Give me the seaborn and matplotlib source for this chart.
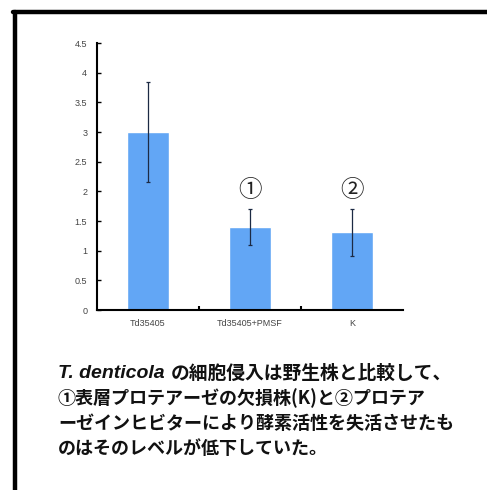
import numpy as np
import pandas as pd
import seaborn as sns
import matplotlib.pyplot as plt
from matplotlib.lines import Line2D

# Data
strains = ['Td35405', 'Td35405+PMSF', 'K']
invasion = [3.0, 1.4, 1.31]
err = [0.84, 0.30, 0.40]
marks = ['', '①', '②']
yticks = [0, 0.5, 1, 1.5, 2, 2.5, 3, 3.5, 4, 4.5]

caption_lead = 'T. denticola'
caption_lines = [
    'の細胞侵入は野生株と比較して、',
    '①表層プロテアーゼの欠損株(K)と②プロテア',
    'ーゼインヒビターにより酵素活性を失活させたも',
    'のはそのレベルが低下していた。',
]

sns.set_style('white')
plt.rcParams['font.family'] = ['Noto Sans CJK JP', 'DejaVu Sans']

df = pd.DataFrame({'strain': strains, 'invasion': invasion})

fig = plt.figure(figsize=(4.87, 4.90), dpi=100)
ax = fig.add_axes([0.199, 0.367, 0.628, 0.545])

sns.barplot(data=df, x='strain', y='invasion', color='#62A6F5',
            saturation=1, width=0.41, errorbar=None, ax=ax)
ax.errorbar(range(len(strains)), invasion, yerr=err, fmt='none',
            ecolor='#1c2a44', elinewidth=0.9, capsize=1.5, capthick=0.9)

for i, m in enumerate(marks):
    if m:
        ax.text(i, 2.02, m, ha='center', va='center', fontsize=17,
                color='#222222', family=['Noto Sans CJK JP', 'DejaVu Sans'])

ax.set_xlim(-0.5, 2.5)
ax.set_ylim(0, 4.5)
ax.set_yticks(yticks)
ax.set_yticklabels([f'{v:g}' for v in yticks], family='Liberation Sans',
                   fontsize=6.5, color='#444444')
ax.set_xticks(range(len(strains)))
ax.set_xticklabels(strains, family='Liberation Sans', fontsize=6.5,
                   color='#444444')
ax.set_xlabel('')
ax.set_ylabel('')
ax.tick_params(axis='y', direction='in', length=3, width=1, pad=7,
               left=True, color='black')
ax.tick_params(axis='x', length=0, pad=6)
# small tick marks between categories on the x axis
ax.set_xticks([0.5, 1.5], minor=True)
ax.tick_params(axis='x', which='minor', direction='in', length=3, width=1.5,
               bottom=True, color='black')
for s in ['top', 'right']:
    ax.spines[s].set_visible(False)
for s in ['left', 'bottom']:
    ax.spines[s].set_color('black')
    ax.spines[s].set_linewidth(1.5)

# frame lines of the slide
fig.add_artist(Line2D([0.031, 0.031], [0.0, 0.976], color='black',
                      lw=3.2, transform=fig.transFigure))
fig.add_artist(Line2D([0.027, 1.0], [0.976, 0.976], color='black',
                      lw=3.2, transform=fig.transFigure))

# caption below the chart
y0 = 1 - 373 / 490
dy = 25 / 490
lead = fig.text(0.119, y0, caption_lead, fontsize=14, fontweight='bold',
                style='italic', family='Liberation Sans', va='center',
                color='#111111')
fig.canvas.draw()
ext = lead.get_window_extent()
x_after = (ext.x1 + 6) / fig.bbox.width
fig.text(x_after, y0, caption_lines[0], fontsize=13.5, fontweight='bold',
         va='center', color='#111111')
for k, line in enumerate(caption_lines[1:], start=1):
    fig.text(0.119, y0 - k * dy, line, fontsize=13, fontweight='bold',
             va='center', color='#111111')

fig.savefig('out.png', dpi=100)
